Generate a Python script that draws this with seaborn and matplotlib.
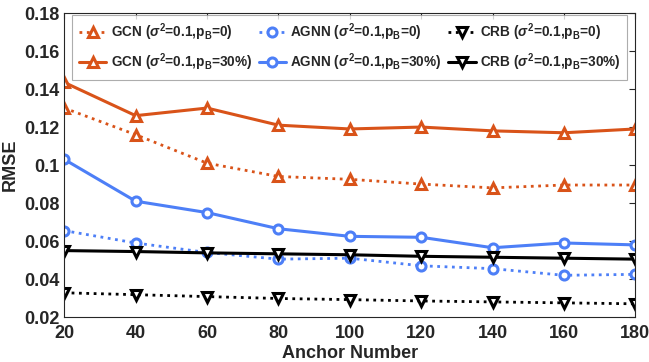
import matplotlib
matplotlib.use("Agg")
import matplotlib.pyplot as plt
import pandas as pd
import numpy as np
import seaborn as sns

# anchor numbers on the x axis
anchors = [20, 40, 60, 80, 100, 120, 140, 160, 180]

# RMSE values
gcn_0 = [0.130, 0.116, 0.101, 0.094, 0.0925, 0.090, 0.088, 0.0895, 0.0895]
gcn_30 = [0.1435, 0.126, 0.130, 0.121, 0.119, 0.120, 0.118, 0.117, 0.119]
agnn_0 = [0.0655, 0.059, 0.054, 0.0505, 0.051, 0.047, 0.0455, 0.042, 0.0425]
agnn_30 = [0.103, 0.081, 0.075, 0.0665, 0.0625, 0.062, 0.0565, 0.059, 0.058]
crb_0 = [0.0328, 0.0318, 0.0308, 0.0298, 0.0292, 0.0285, 0.0280, 0.0275, 0.0270]
crb_30 = [0.0550, 0.0545, 0.0538, 0.0533, 0.0528, 0.0520, 0.0515, 0.0510, 0.0505]

y_ticks = [0.02, 0.04, 0.06, 0.08, 0.1, 0.12, 0.14, 0.16, 0.18]
y_labels = ["0.02", "0.04", "0.06", "0.08", "0.1", "0.12", "0.14", "0.16", "0.18"]

orange = "#D95319"
blue = "#4D7FF7"

# (label, values, colour, linestyle, marker) in legend order (column-wise)
series = [
    (r"GCN ($\sigma^2$=0.1,p$_{\mathbf{B}}$=0)", gcn_0, orange, ":", "^"),
    (r"GCN ($\sigma^2$=0.1,p$_{\mathbf{B}}$=30%)", gcn_30, orange, "-", "^"),
    (r"AGNN ($\sigma^2$=0.1,p$_{\mathbf{B}}$=0)", agnn_0, blue, ":", "o"),
    (r"AGNN ($\sigma^2$=0.1,p$_{\mathbf{B}}$=30%)", agnn_30, blue, "-", "o"),
    (r"CRB ($\sigma^2$=0.1,p$_{\mathbf{B}}$=0)", crb_0, "black", ":", "v"),
    (r"CRB ($\sigma^2$=0.1,p$_{\mathbf{B}}$=30%)", crb_30, "black", "-", "v"),
]

sns.set_style("white")
plt.rcParams["font.family"] = ["Liberation Sans", "DejaVu Sans"]
plt.rcParams["font.weight"] = "bold"
plt.rcParams["mathtext.fontset"] = "custom"
plt.rcParams["mathtext.rm"] = "Liberation Sans:bold"
plt.rcParams["mathtext.it"] = "Liberation Sans:italic:bold"
plt.rcParams["mathtext.bf"] = "Liberation Sans:bold"

fig, ax = plt.subplots(figsize=(6.49, 3.62), dpi=100)

for label, vals, col, ls, mk in series:
    df = pd.DataFrame({"anchor": anchors, "rmse": vals})
    sns.lineplot(data=df, x="anchor", y="rmse", ax=ax, color=col, linestyle=ls,
                 linewidth=2.2 if ls == "-" else 2.0, marker=mk, markersize=6.5,
                 markerfacecolor="white", markeredgecolor=col, markeredgewidth=2.2,
                 label=label)

ax.set_xlim(20, 180)
ax.set_ylim(0.02, 0.18)
ax.set_xticks(anchors)
ax.set_yticks(y_ticks)
ax.set_yticklabels(y_labels)
ax.tick_params(direction="in", top=True, right=True, labelsize=13, length=4,
               width=0.8, colors="#262626")
ax.tick_params(axis="x", pad=6)
for lab in ax.get_xticklabels() + ax.get_yticklabels():
    lab.set_fontweight("bold")
for sp in ax.spines.values():
    sp.set_color("#262626")
    sp.set_linewidth(0.8)

ax.set_xlabel("Anchor Number", fontsize=13, fontweight="bold", color="#262626",
              labelpad=2)
ax.set_ylabel("RMSE", fontsize=13, fontweight="bold", color="#262626")

leg = ax.legend(loc="upper center", bbox_to_anchor=(0.5, 0.995), ncol=3,
                fontsize=9.8, frameon=True, fancybox=False, edgecolor="#999999",
                handlelength=2.0, handletextpad=0.3, columnspacing=0.5,
                borderaxespad=0.0, borderpad=0.5, labelspacing=0.6)
leg.get_frame().set_linewidth(0.8)

plt.subplots_adjust(left=0.099, right=0.979, top=0.964, bottom=0.124)
plt.savefig("out.png", dpi=100)
